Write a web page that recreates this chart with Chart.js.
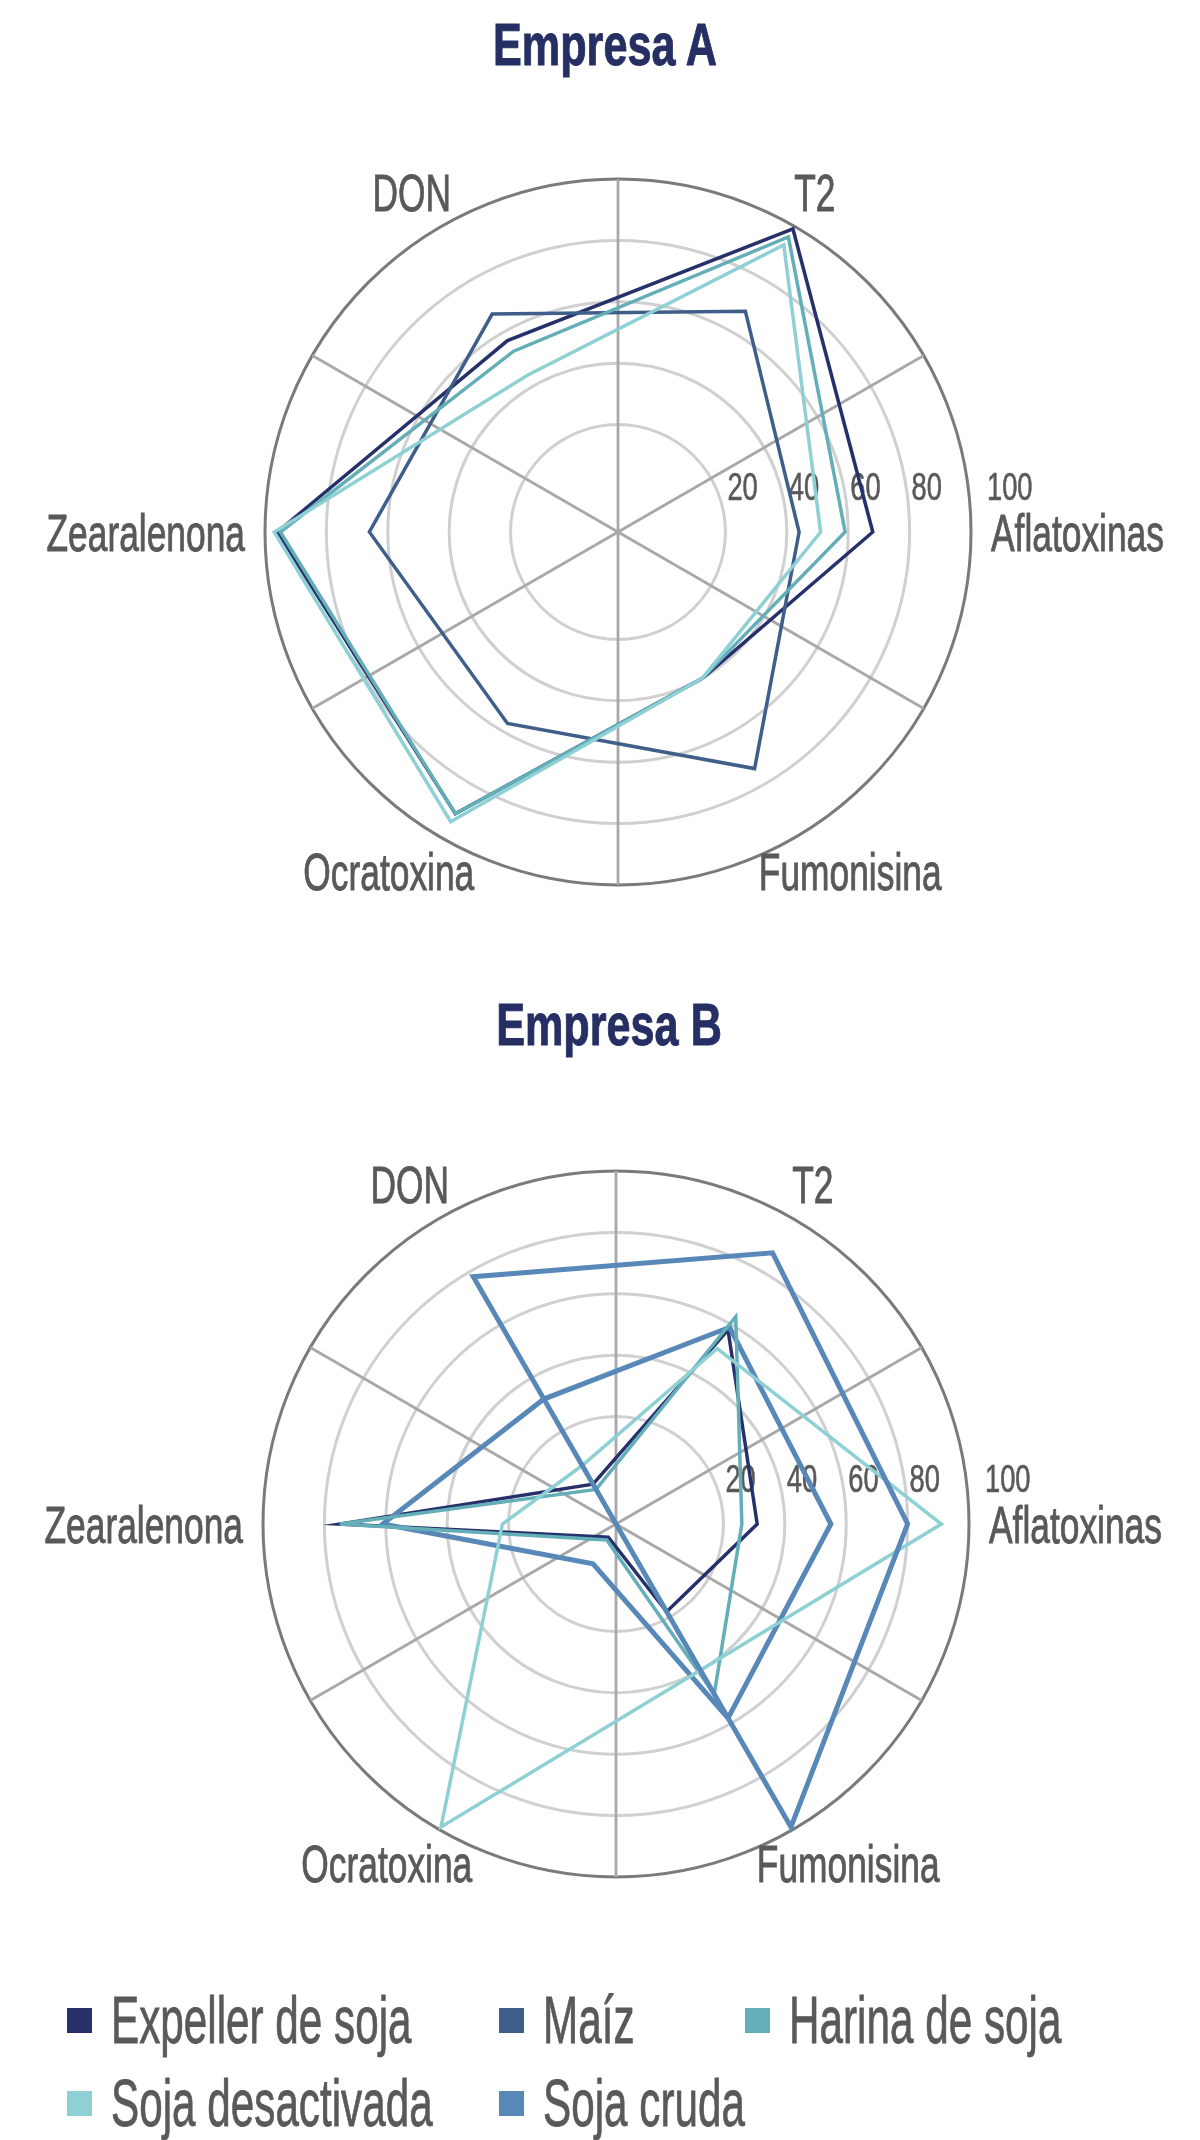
<!DOCTYPE html>
<html lang="es">
<head>
<meta charset="utf-8">
<title>Micotoxinas - Empresa A / Empresa B</title>
<script src="https://cdn.jsdelivr.net/npm/chart.js@4.4.1/dist/chart.umd.min.js"></script>
<style>
  html, body { margin: 0; padding: 0; background: #fff; }
  body { position: relative; width: 1200px; height: 2140px; overflow: hidden;
         font-family: 'Liberation Sans', Arial, sans-serif; }
  canvas { position: absolute; left: 0; }
  .title { position: absolute; white-space: nowrap; font-weight: bold; font-size: 60px;
           line-height: 1; color: #262f63; -webkit-text-stroke: 1px #262f63;
           transform: translateX(-50%) scaleX(0.72); }
  .legend-item { position: absolute; height: 66px; }
  .legend-item i { position: absolute; left: 0; top: 21px; width: 25px; height: 25px; }
  .legend-item span { position: absolute; left: 44px; top: 0; white-space: nowrap; font-size: 66px;
                      line-height: 1; color: #595959; -webkit-text-stroke: 0.8px #595959;
                      transform: scaleX(0.64); transform-origin: left center; }
</style>
</head>
<body>
<div class="title" style="left:605px; top:15px;">Empresa A</div>
<canvas id="radarA" width="1200" height="950" style="top:0;"></canvas>
<div class="title" style="left:609px; top:995px;">Empresa B</div>
<canvas id="radarB" width="1200" height="1000" style="top:950px;"></canvas>
<div id="legend"></div>

<script>
// categories in clockwise order, starting at T2 (upper right)
const categories = ['T2', 'Aflatoxinas', 'Fumonisina', 'Ocratoxina', 'Zearalenona', 'DON'];
const seriesNames = ['Expeller de soja', 'Maíz', 'Harina de soja', 'Soja desactivada', 'Soja cruda'];
const tickValues = [20, 40, 60, 80, 100];

// Empresa A
const expellerA    = [99, 68, 40, 91, 96, 57];
const maizA        = [68, 44, 74, 57, 66, 67];
const harinaA      = [96, 59, 40, 91, 95, 53];
const desactivadaA = [93, 51, 40, 94, 97, 44];
const crudaA       = [null, null, null, null, null, null];

// Empresa B
const expellerB    = [58, 31, 18, -10, 75, 0];
const maizB        = [59, 55, 58, 0, 61, 32];
const harinaB      = [63, 26, 49, -9, 75, -2];
const desactivadaB = [51, 91, 40, 99, 22, 7];
const crudaB       = [87, 80, 99, null, null, 78];

const seriesColors = ['#26306a', '#3f5f8a', '#64aeb8', '#8ed0d4', '#5788b8'];
// in Empresa B the Maíz line is drawn in the same blue as Soja cruda
const colorsB = ['#26306a', '#5788b8', '#64aeb8', '#8ed0d4', '#5788b8'];
const widthsA = [3.5, 3.5, 3.5, 3.5, 3.5];
const widthsB = [3.5, 5, 3.5, 3.5, 5];

const textColor = '#595959';
const fontFamily = "'Liberation Sans', Arial, sans-serif";

// draws condensed text: squeeze horizontally, thicken a little with a stroke
const squeezedText = (ctx, text, x, y, squeeze) => {
    ctx.save();
    ctx.translate(x, y);
    ctx.scale(squeeze, 1);
    ctx.fillText(text, 0, 0);
    ctx.strokeText(text, 0, 0);
    ctx.restore();
};

// spokes sit half way between the categories; tick and point labels drawn by hand
const radarDecor = {
    id: 'radarDecor',
    beforeDatasetsDraw(chart) {
        const r = chart.scales.r;
        const ctx = chart.ctx;
        const half = Math.PI / categories.length;
        ctx.save();
        ctx.strokeStyle = '#a8a8a8';
        ctx.lineWidth = 2.8;
        for (let i = 0; i < categories.length; i++) {
            const a = r.getIndexAngle(i) - Math.PI / 2 + half;
            ctx.beginPath();
            ctx.moveTo(r.xCenter, r.yCenter);
            ctx.lineTo(r.xCenter + Math.cos(a) * r.drawingArea, r.yCenter + Math.sin(a) * r.drawingArea);
            ctx.stroke();
        }
        ctx.fillStyle = textColor;
        ctx.strokeStyle = textColor;
        ctx.lineWidth = 0.6;
        ctx.font = '39px ' + fontFamily;
        ctx.textBaseline = 'alphabetic';
        tickValues.forEach(v => {
            const d = r.getDistanceFromCenterForValue(v) + (v === r.max ? 16 : 2);
            squeezedText(ctx, String(v), r.xCenter + d, r.yCenter - 32, 0.7);
        });
        ctx.restore();
    },
    afterDraw(chart) {
        const r = chart.scales.r;
        const ctx = chart.ctx;
        const squeeze = 0.68;
        const capH = 37;
        ctx.save();
        ctx.fillStyle = textColor;
        ctx.strokeStyle = textColor;
        ctx.lineWidth = 0.9;
        ctx.font = '52px ' + fontFamily;
        ctx.textBaseline = 'alphabetic';
        categories.forEach((label, i) => {
            const a = r.getIndexAngle(i) - Math.PI / 2;
            const ux = Math.cos(a), uy = Math.sin(a);
            const w = ctx.measureText(label).width * squeeze;
            const d = r.drawingArea + 20;
            const cx = r.xCenter + ux * (d + w / 2);
            const cy = r.yCenter + uy * d + uy * capH / 2;
            squeezedText(ctx, label, cx - w / 2, cy + capH / 2, squeeze);
        });
        ctx.restore();
    }
};

const makeRadar = (canvasId, values, colors, widths, padding) => {
    return new Chart(document.getElementById(canvasId), {
        type: 'radar',
        data: {
            labels: categories,
            datasets: seriesNames.map((name, i) => ({
                label: name,
                data: values[i],
                borderColor: colors[i],
                borderWidth: widths[i],
                backgroundColor: 'transparent',
                fill: false,
                pointRadius: 0,
                pointHoverRadius: 0,
                tension: 0,
                spanGaps: true,
                borderJoinStyle: 'miter',
                order: seriesNames.length - i // later series on top
            }))
        },
        options: {
            responsive: false,
            animation: false,
            layout: { padding: padding },
            plugins: {
                legend: { display: false },
                tooltip: { enabled: false },
                title: { display: false }
            },
            scales: {
                r: {
                    min: -15,
                    max: 100,
                    startAngle: 30,
                    afterBuildTicks: scale => {
                        scale.ticks = [{ value: scale.min }].concat(tickValues.map(v => ({ value: v })));
                    },
                    ticks: { display: false },
                    pointLabels: { display: false },
                    angleLines: { display: false },
                    grid: {
                        circular: true,
                        color: c => {
                            const v = c.tick ? c.tick.value : 0;
                            if (v <= 0) return 'rgba(0,0,0,0)';
                            return v === 100 ? '#7a7a7a' : '#d0d0d0';
                        },
                        lineWidth: 3
                    }
                }
            }
        },
        plugins: [radarDecor]
    });
};

makeRadar('radarA', [expellerA, maizA, harinaA, desactivadaA, crudaA], seriesColors, widthsA,
    { left: 265, right: 229, top: 179, bottom: 65 });
makeRadar('radarB', [expellerB, maizB, harinaB, desactivadaB, crudaB], colorsB, widthsB,
    { left: 263, right: 231, top: 221, bottom: 73 });

// legend: three columns, two rows
const legendCols = [67, 499, 745];
const legendRows = [1987, 2070];
const legend = document.getElementById('legend');
seriesNames.forEach((name, i) => {
    const item = document.createElement('div');
    item.className = 'legend-item';
    item.style.left = legendCols[i % 3] + 'px';
    item.style.top = legendRows[Math.floor(i / 3)] + 'px';
    const box = document.createElement('i');
    box.style.background = seriesColors[i];
    const txt = document.createElement('span');
    txt.textContent = name;
    item.appendChild(box);
    item.appendChild(txt);
    legend.appendChild(item);
});
</script>
</body>
</html>
